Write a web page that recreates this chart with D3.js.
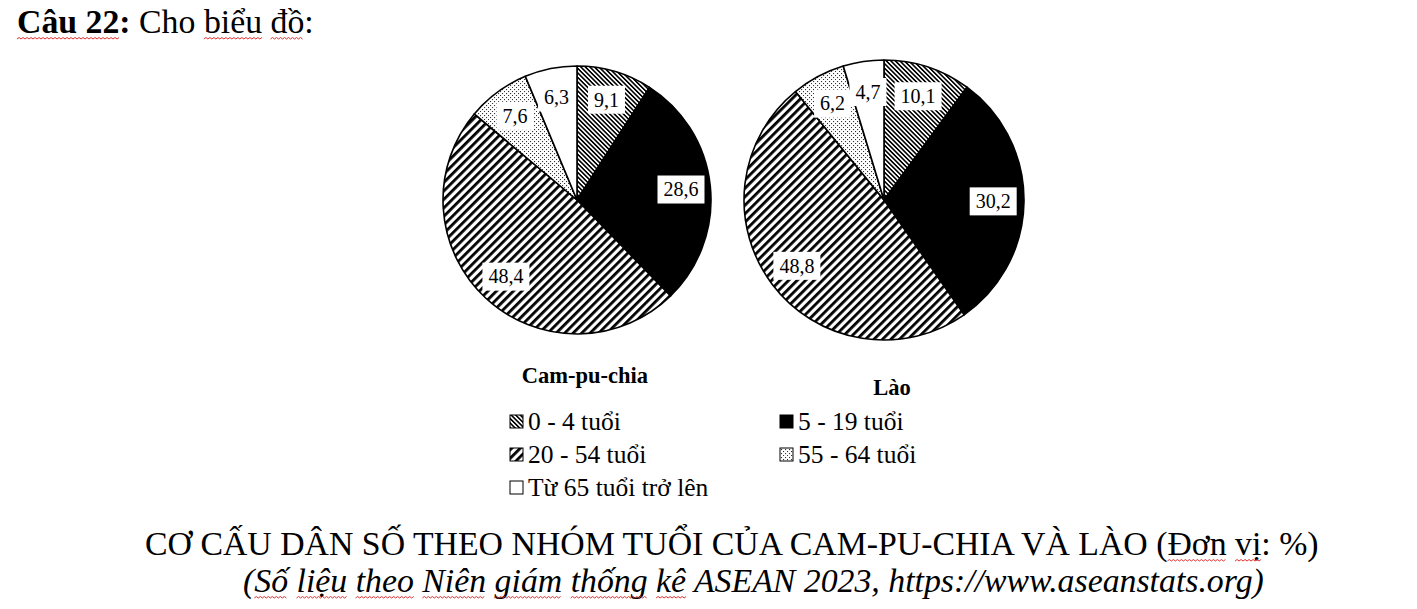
<!DOCTYPE html>
<html>
<head>
<meta charset="utf-8">
<script src="https://cdn.jsdelivr.net/npm/d3@7/dist/d3.min.js"></script>
<style>
  body { margin: 0; background: #fff; }
  svg { display: block; }
  svg text { font-family: "Liberation Serif", "Times New Roman", serif; }
</style>
</head>
<body>
<div id="chart"></div>
<script>
// data
var groups = ["0 - 4 tuổi", "5 - 19 tuổi", "20 - 54 tuổi", "55 - 64 tuổi", "Từ 65 tuổi trở lên"];
var countries = ["Cam-pu-chia", "Lào"];
var campuchia = [9.1, 28.6, 48.4, 7.6, 6.3];
var lao = [10.1, 30.2, 48.8, 6.2, 4.7];
var values = [campuchia, lao];

// layout
var W = 1417, H = 609;
var pies = [
  {cx: 577, cy: 200, r: 134, nameX: 585, nameY: 383},
  {cx: 884, cy: 200, r: 140, nameX: 892, nameY: 395}
];
var fills = ["url(#p04)", "#000", "url(#p2054)", "url(#p5564)", "#fff"];

var svg = d3.select("#chart").append("svg")
  .attr("width", W).attr("height", H);

var defs = svg.append("defs");

// fine "\" hatch
var p1 = defs.append("pattern").attr("id", "p04")
  .attr("patternUnits", "userSpaceOnUse").attr("width", 3.2).attr("height", 3.2)
  .attr("patternTransform", "rotate(-45)");
p1.append("rect").attr("width", 3.2).attr("height", 3.2).attr("fill", "#fff");
p1.append("rect").attr("width", 1.6).attr("height", 3.2).attr("fill", "#000");

// wide "/" hatch
var p2 = defs.append("pattern").attr("id", "p2054")
  .attr("patternUnits", "userSpaceOnUse").attr("width", 6).attr("height", 6)
  .attr("patternTransform", "rotate(45)");
p2.append("rect").attr("width", 6).attr("height", 6).attr("fill", "#fff");
p2.append("rect").attr("width", 2.8).attr("height", 6).attr("fill", "#000");

// dots
var p3 = defs.append("pattern").attr("id", "p5564")
  .attr("patternUnits", "userSpaceOnUse").attr("width", 8).attr("height", 8);
p3.append("rect").attr("width", 8).attr("height", 8).attr("fill", "#fff");
[[1, 1], [5, 1], [3, 3], [7, 3], [1, 5], [5, 5], [3, 7], [7, 7]].forEach(function(p){
  p3.append("rect").attr("x", p[0]).attr("y", p[1])
    .attr("width", 1.1).attr("height", 1.1).attr("fill", "#333");
});

var pie = d3.pie().sort(null).value(function(d){ return d; });

function fmt(v){ return v.toFixed(1).replace(".", ","); }

pies.forEach(function(p, k){
  var arcs = pie(values[k]);
  var arc = d3.arc().innerRadius(0).outerRadius(p.r);
  var labelArc = d3.arc().innerRadius(p.r * 0.78).outerRadius(p.r * 0.78);

  var g = svg.append("g").attr("transform", "translate(" + p.cx + "," + p.cy + ")");

  g.selectAll("path.slice")
    .data(arcs)
    .enter()
    .append("path")
    .attr("class", "slice")
    .attr("d", arc)
    .attr("fill", function(d, i){ return fills[i]; })
    .attr("stroke", "#000")
    .attr("stroke-width", 1.6)
    .attr("stroke-linejoin", "round");

  var labels = g.selectAll("g.lbl")
    .data(arcs)
    .enter()
    .append("g")
    .attr("class", "lbl")
    .attr("transform", function(d){ return "translate(" + labelArc.centroid(d) + ")"; });

  labels.append("text")
    .attr("text-anchor", "middle")
    .attr("dy", "0.34em")
    .style("font-size", "20px")
    .text(function(d){ return fmt(d.data); });

  labels.each(function(){
    var grp = d3.select(this);
    var bb = grp.select("text").node().getBBox();
    grp.insert("rect", "text")
      .attr("x", bb.x - 6).attr("y", -14)
      .attr("width", bb.width + 12).attr("height", 28)
      .attr("fill", "#fff");
  });

  svg.append("text")
    .attr("x", p.nameX).attr("y", p.nameY)
    .attr("text-anchor", "middle")
    .style("font-size", "22.5px")
    .style("font-weight", "bold")
    .text(countries[k]);
});

// legend
var colX = [510, 780], rowY = [415, 448, 481];
var legend = svg.selectAll("g.legend")
  .data(groups)
  .enter()
  .append("g")
  .attr("class", "legend")
  .attr("transform", function(d, i){
    return "translate(" + colX[i % 2] + "," + rowY[Math.floor(i / 2)] + ")";
  });

legend.append("rect")
  .attr("width", 13).attr("height", 13)
  .attr("fill", function(d, i){ return fills[i]; })
  .attr("stroke", "#000").attr("stroke-width", 1);

legend.append("text")
  .attr("x", 18).attr("y", 14.5)
  .style("font-size", "25.5px")
  .text(function(d){ return d; });

// texts with spell-check squiggles
function addLine(x, y, parts, style){
  var t = svg.append("text").attr("x", x).attr("y", y)
    .style("font-size", "33.8px")
    .style("font-style", style || "normal");
  parts.forEach(function(pt){
    t.append("tspan")
      .style("font-weight", pt.b ? "bold" : "normal")
      .attr("class", pt.u ? "sq" : null)
      .text(pt.t);
  });
  t.selectAll("tspan.sq").each(function(){
    var node = this;
    var x0 = node.getStartPositionOfChar(0).x;
    var x1 = x0 + node.getComputedTextLength();
    var yy = y + 6, d = "M" + x0 + "," + yy, up = true;
    for (var xx = x0 + 2; xx <= x1; xx += 2) {
      d += "L" + xx + "," + (yy + (up ? -1.5 : 0));
      up = !up;
    }
    svg.append("path").attr("d", d).attr("fill", "none")
      .attr("stroke", "#e03030").attr("stroke-width", 1);
  });
}

addLine(17, 33, [
  {t: "Câu 22", b: 1, u: 1}, {t: ":", b: 1}, {t: " Cho "},
  {t: "biểu", u: 1}, {t: " "}, {t: "đồ", u: 1}, {t: ":"}
]);

addLine(145, 555, [
  {t: "CƠ CẤU DÂN SỐ THEO NHÓM TUỔI CỦA CAM-PU-CHIA VÀ LÀO ("},
  {t: "Đơn", u: 1}, {t: " "}, {t: "vị", u: 1}, {t: ": %)"}
]);

addLine(243, 592, [
  {t: "("}, {t: "Số", u: 1}, {t: " "}, {t: "liệu", u: 1}, {t: " "},
  {t: "theo", u: 1}, {t: " "}, {t: "Niên", u: 1}, {t: " "}, {t: "giám", u: 1}, {t: " "},
  {t: "thống", u: 1}, {t: " "}, {t: "kê", u: 1},
  {t: " ASEAN 2023, https://www.aseanstats.org)"}
], "italic");
</script>
</body>
</html>
